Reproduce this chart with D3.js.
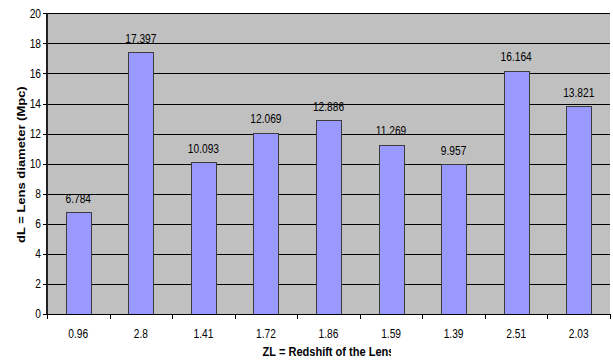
<!DOCTYPE html>
<html>
<head>
<meta charset="utf-8">
<script src="https://cdn.jsdelivr.net/npm/d3@7/dist/d3.min.js"></script>
<style>
  html, body { margin: 0; padding: 0; background: #fff; }
  svg { display: block; }
  text { font-family: "Liberation Sans", Arial, sans-serif; fill: #000; }
</style>
</head>
<body>
<svg id="chart" width="613" height="364"></svg>
<script>
// Redshift of each lens (category labels) and lens diameter in Mpc
const categories = ["0.96", "2.8", "1.41", "1.72", "1.86", "1.59", "1.39", "2.51", "2.03"];
const diameters = [6.784, 17.397, 10.093, 12.069, 12.886, 11.269, 9.957, 16.164, 13.821];
const yTicks = [0, 2, 4, 6, 8, 10, 12, 14, 16, 18, 20];

const svg = d3.select("#chart");
const plotLeft = 47, plotRight = 610, plotTop = 13.3, plotBottom = 314;
const SX = 0.85; // narrow glyph width used throughout

const x = d3.scaleBand().domain(categories).range([plotLeft, plotRight])
  .paddingInner(0.6).paddingOuter(0.3);
const y = d3.scaleLinear().domain([0, 20]).range([plotBottom, plotTop]);

// text helper with horizontally condensed glyphs
function label(parent, px, py, str, anchor, size, weight) {
  return parent.append("text")
    .attr("transform", `translate(${px},${py}) scale(${SX},1)`)
    .attr("text-anchor", anchor)
    .style("font-size", size + "px")
    .style("font-weight", weight || "normal")
    .text(str);
}

// plot area background
svg.append("rect")
  .attr("x", plotLeft).attr("y", y(20))
  .attr("width", plotRight - plotLeft).attr("height", y(0) - y(20))
  .attr("fill", "#c0c0c0");

// horizontal gridlines
svg.append("g").selectAll("line").data(yTicks.filter(d => d > 0)).join("line")
  .attr("x1", plotLeft).attr("x2", plotRight)
  .attr("y1", d => Math.round(y(d)) + 0.5).attr("y2", d => Math.round(y(d)) + 0.5)
  .attr("stroke", "#000").attr("stroke-width", 1);

// bars
svg.append("g").selectAll("rect").data(diameters).join("rect")
  .attr("x", (d, i) => Math.round(x(categories[i])) + 0.5)
  .attr("y", d => Math.round(y(d)) + 0.5)
  .attr("width", Math.round(x.bandwidth()))
  .attr("height", d => Math.round(y(0)) - Math.round(y(d)))
  .attr("fill", "#9999ff")
  .attr("stroke", "#3c3c3c").attr("stroke-width", 1);

// value labels above bars
const vl = svg.append("g");
diameters.forEach((d, i) => {
  label(vl, x(categories[i]) + x.bandwidth() / 2, y(d) - 9.5, d3.format(".3f")(d), "middle", 12);
});

// y axis
const yAxis = svg.append("g");
yAxis.append("line")
  .attr("x1", plotLeft).attr("x2", plotLeft).attr("y1", y(20)).attr("y2", y(0) + 1)
  .attr("stroke", "#222").attr("stroke-width", 2);
yAxis.selectAll("line.tick").data(yTicks).join("line").attr("class", "tick")
  .attr("x1", plotLeft - 4).attr("x2", plotLeft)
  .attr("y1", d => Math.round(y(d)) + 0.5).attr("y2", d => Math.round(y(d)) + 0.5)
  .attr("stroke", "#000");
yTicks.forEach(t => label(yAxis, 41, y(t) + 4.3, String(t), "end", 12));

// x axis with ticks at category boundaries
const xAxis = svg.append("g");
xAxis.append("line")
  .attr("x1", plotLeft).attr("x2", plotRight)
  .attr("y1", Math.round(y(0)) + 0.5).attr("y2", Math.round(y(0)) + 0.5)
  .attr("stroke", "#000");
const bounds = categories.map((c, i) => plotLeft + i * x.step()).concat([plotRight]);
xAxis.selectAll("line.tick").data(bounds).join("line").attr("class", "tick")
  .attr("x1", d => Math.round(d) + 0.5).attr("x2", d => Math.round(d) + 0.5)
  .attr("y1", y(0)).attr("y2", y(0) + 5)
  .attr("stroke", "#000");
categories.forEach(c => label(xAxis, x(c) + x.bandwidth() / 2, 338, c, "middle", 12));

// axis titles (the x title is cut off at its right end)
svg.append("clipPath").attr("id", "xtClip")
  .append("rect").attr("x", 0).attr("y", 330).attr("width", 391).attr("height", 34);
label(svg.append("g").attr("clip-path", "url(#xtClip)"),
  (plotLeft + plotRight) / 2, 356, "ZL = Redshift of the Lens", "middle", 13, "bold");

svg.append("text")
  .attr("transform", `translate(25,${(plotTop + plotBottom) / 2 + 1}) scale(${SX},1) rotate(-90)`)
  .attr("text-anchor", "middle")
  .style("font-size", "13px").style("font-weight", "bold")
  .text("dL = Lens diameter (Mpc)");
</script>
</body>
</html>
